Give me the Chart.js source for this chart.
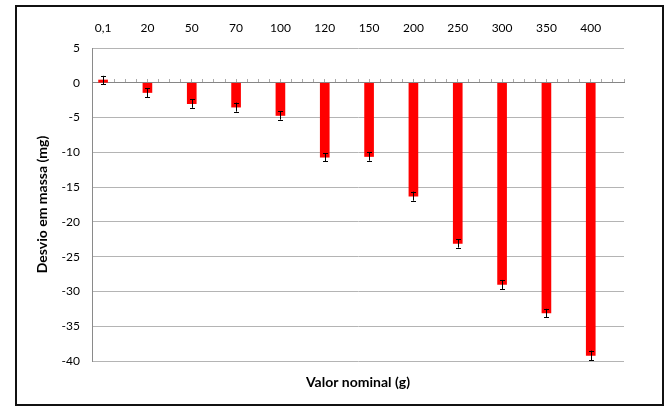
<!DOCTYPE html>
<html>
<head>
<meta charset="utf-8">
<script src="https://cdn.jsdelivr.net/npm/chart.js@4/dist/chart.umd.min.js"></script>
<style>
  html, body { margin: 0; padding: 0; background: #fff; }
  #wrap { position: relative; width: 668px; height: 407px; }
  #frame { position: absolute; left: 15px; top: 5px; width: 649px; height: 401px; box-sizing: border-box; border: 2px solid #111; pointer-events: none; }
  canvas { position: absolute; left: 0; top: 0; }
</style>
</head>
<body>
<div id="wrap">
  <canvas id="c" width="668" height="407"></canvas>
  <div id="frame"></div>
</div>
<script>
// ---- data ----
const categories = ['0,1', '20', '50', '70', '100', '120', '150', '200', '250', '300', '350', '400'];
const deviations = [0.4, -1.4, -3.0, -3.5, -4.7, -10.7, -10.6, -16.3, -23.1, -29.0, -33.1, -39.2];
const uncertainties = [0.6, 0.65, 0.6, 0.65, 0.6, 0.6, 0.6, 0.65, 0.6, 0.65, 0.6, 0.7];
const yTicks = [5, 0, -5, -10, -15, -20, -25, -30, -35, -40];
const yTitle = 'Desvio em massa (mg)';
const xTitle = 'Valor nominal (g)';

Chart.defaults.font.family = 'Lato, "Liberation Sans", sans-serif';
Chart.defaults.color = '#000';

const errorBars = {
  id: 'errorBars',
  afterDatasetsDraw(chart) {
    const meta = chart.getDatasetMeta(0);
    const ys = chart.scales.y;
    const ctx = chart.ctx;
    ctx.save();
    ctx.strokeStyle = '#000';
    ctx.lineWidth = 1;
    meta.data.forEach((bar, i) => {
      const x = Math.round(bar.x) + 0.5;
      const yTop = ys.getPixelForValue(deviations[i] + uncertainties[i]);
      const yBot = ys.getPixelForValue(deviations[i] - uncertainties[i]);
      ctx.beginPath();
      ctx.moveTo(x, yTop); ctx.lineTo(x, yBot);
      ctx.moveTo(x - 2.5, Math.round(yTop) + 0.5); ctx.lineTo(x + 2.5, Math.round(yTop) + 0.5);
      ctx.moveTo(x - 2.5, Math.round(yBot) + 0.5); ctx.lineTo(x + 2.5, Math.round(yBot) + 0.5);
      ctx.stroke();
    });
    ctx.restore();
  }
};

const xMin = -0.25, xMax = categories.length - 0.25;

new Chart(document.getElementById('c'), {
  type: 'bar',
  data: {
    datasets: [{
      data: categories.map((c, i) => ({ x: i, y: deviations[i] })),
      backgroundColor: '#ff0000',
      borderWidth: 0,
      barThickness: 9,
      xAxisID: 'x',
      yAxisID: 'y'
    }]
  },
  options: {
    responsive: false,
    animation: false,
    devicePixelRatio: 1,
    layout: { padding: { left: 15, right: 44, top: 10, bottom: 10 } },
    plugins: { legend: { display: false }, tooltip: { enabled: false } },
    scales: {
      y: {
        position: 'left',
        min: -40, max: 5,
        afterBuildTicks: s => { s.ticks = yTicks.map(v => ({ value: v })); },
        afterFit: s => { s.width = 77; },
        ticks: { padding: 12, font: { size: 12 } },
        grid: { color: '#b4b4b4', drawTicks: false },
        border: { display: true, color: '#8a8a8a' },
        title: { display: true, text: yTitle, font: { size: 14, weight: 'bold' }, padding: { top: 19, bottom: 0 } }
      },
      x: {
        type: 'linear',
        position: 'top',
        offset: false,
        min: xMin, max: xMax,
        afterBuildTicks: s => { s.ticks = categories.map((c, i) => ({ value: i })); },
        afterFit: s => { s.height = 38; },
        ticks: { padding: 13, autoSkip: false, maxRotation: 0, font: { size: 12 }, callback: v => categories[v] },
        grid: { display: false, drawTicks: false, offset: false },
        border: { display: false }
      },
      xb: {
        type: 'linear',
        position: 'bottom',
        offset: false,
        min: xMin, max: xMax,
        afterFit: s => { s.height = 36; },
        ticks: { display: false },
        grid: { display: false, drawTicks: false, offset: false },
        border: { display: false },
        title: { display: true, text: xTitle, font: { size: 14, weight: 'bold' }, padding: { top: 0, bottom: 6 } }
      },
      xz: {
        type: 'linear',
        position: { y: 0 },
        offset: false,
        min: xMin, max: xMax,
        ticks: { display: false, stepSize: 0.25, maxTicksLimit: 200 },
        grid: { display: true, drawOnChartArea: false, drawTicks: true, tickLength: -4, color: '#aaaaaa', offset: false },
        border: { display: true, color: '#868686', width: 1 }
      }
    }
  },
  plugins: [errorBars]
});
</script>
</body>
</html>
